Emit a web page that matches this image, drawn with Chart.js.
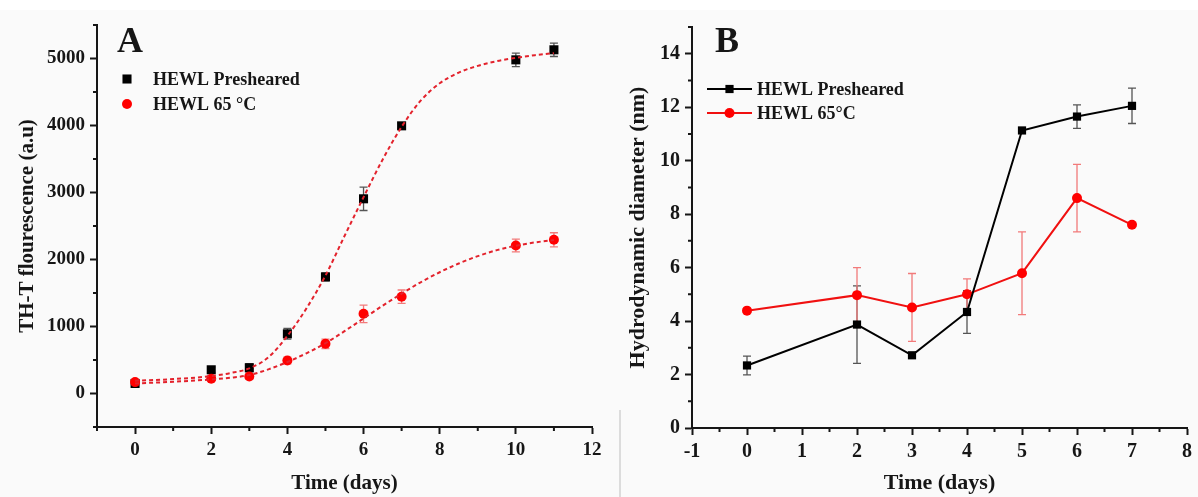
<!DOCTYPE html>
<html>
<head>
<meta charset="utf-8">
<script src="https://cdn.jsdelivr.net/npm/chart.js@4.4.1/dist/chart.umd.min.js"></script>
<style>
  html, body { margin: 0; padding: 0; background: #fff; }
  .panel { position: absolute; top: 0; height: 497px; background: linear-gradient(#fff 0 10px, #fafafa 10px); }
  #panelA { left: 0; width: 610px; }
  #panelB { left: 610px; width: 588px; }
  #gap { position: absolute; left: 619px; top: 410px; width: 2px; height: 87px; background: #dcdcdc; }
  canvas { display: block; }
</style>
</head>
<body>
<div class="panel" id="panelA"><canvas id="chartA" width="610" height="497"></canvas></div>
<div class="panel" id="panelB"><canvas id="chartB" width="588" height="497"></canvas></div>
<div id="gap"></div>
<script>
// ---- A: ThT fluorescence over time ----
const daysA = [0, 2, 3, 4, 5, 6, 7, 10, 11];
const thtPresheared = [150, 354, 384, 891, 1740, 2906, 3995, 4980, 5130];
const thtPreshearedErr = [40, 40, 60, 80, 60, 175, 40, 100, 100];
const tht65 = [170, 219, 254, 493, 742, 1189, 1445, 2209, 2294];
const tht65Err = [30, 30, 40, 50, 70, 130, 100, 95, 105];

// sigmoidal fits, sampled along the dashed curves
const fitDays = [0, 1, 2, 2.5, 3, 3.5, 4, 4.5, 5, 5.5, 6, 6.5, 7, 7.5, 8, 8.5, 9, 9.5, 10, 10.5, 11];
const fitPresheared = [190, 215, 260, 305, 375, 540, 860, 1270, 1760, 2350, 2930, 3490, 3980, 4370, 4630, 4790, 4890, 4960, 5010, 5050, 5080];
const fit65 = [150, 175, 210, 235, 275, 360, 470, 600, 750, 930, 1120, 1310, 1490, 1660, 1810, 1940, 2050, 2140, 2205, 2255, 2290];

const xTicksA = [0, 2, 4, 6, 8, 10, 12];
const xMinorA = [-1, 1, 3, 5, 7, 9, 11];
const yTicksA = [0, 1000, 2000, 3000, 4000, 5000];
const yMinorA = [-500, 500, 1500, 2500, 3500, 4500, 5500];

// ---- B: hydrodynamic diameter over time ----
const daysB = [0, 2, 3, 4, 5, 6, 7];
const dlsPresheared = [2.34, 3.87, 2.72, 4.34, 11.13, 11.65, 12.05];
const dlsPreshearedErr = [0.35, 1.45, 0.05, 0.8, 0, 0.44, 0.66];
const dls65 = [4.39, 4.97, 4.51, 5.0, 5.79, 8.6, 7.6];
const dls65Err = [0, 1.03, 1.27, 0.58, 1.55, 1.26, 0];

const xTicksB = [-1, 0, 1, 2, 3, 4, 5, 6, 7, 8];
const xMinorB = [-0.5, 0.5, 1.5, 2.5, 3.5, 4.5, 5.5, 6.5, 7.5];
const yTicksB = [0, 2, 4, 6, 8, 10, 12, 14];
const yMinorB = [1, 3, 5, 7, 9, 11, 13, 15];

const INK = '#161616';
const RED = '#ff0000';

const pts = (xs, ys) => xs.map((x, i) => ({x, y: ys[i]}));

Chart.defaults.font.family = '"Liberation Serif", "Times New Roman", serif';
Chart.defaults.font.weight = 'bold';
Chart.defaults.color = INK;

// vertical error bars with caps, drawn under the markers
const errorBars = {
  id: 'errorBars',
  beforeDatasetsDraw(chart) {
    const {ctx, scales: {x, y}} = chart;
    chart.data.datasets.forEach(ds => {
      if (!ds.errors) return;
      ctx.save();
      ctx.strokeStyle = ds.errorColor;
      ctx.lineWidth = 1.3;
      ctx.beginPath();
      ds.data.forEach((p, j) => {
        const e = ds.errors[j];
        if (!e) return;
        const px = x.getPixelForValue(p.x);
        const top = y.getPixelForValue(p.y + e);
        const bot = y.getPixelForValue(p.y - e);
        ctx.moveTo(px, top); ctx.lineTo(px, bot);
        ctx.moveTo(px - 4, top); ctx.lineTo(px + 4, top);
        ctx.moveTo(px - 4, bot); ctx.lineTo(px + 4, bot);
      });
      ctx.stroke();
      ctx.restore();
    });
  }
};

// short unlabelled ticks between the major ones
const minorTicks = {
  id: 'minorTicks',
  afterDraw(chart, args, opts) {
    const {ctx, scales: {x, y}} = chart;
    ctx.save();
    ctx.strokeStyle = INK;
    ctx.lineWidth = 2;
    ctx.beginPath();
    opts.x.forEach(v => {
      const px = x.getPixelForValue(v);
      ctx.moveTo(px, x.top); ctx.lineTo(px, x.top + opts.length);
    });
    opts.y.forEach(v => {
      const py = y.getPixelForValue(v);
      ctx.moveTo(y.right, py); ctx.lineTo(y.right - opts.length, py);
    });
    ctx.stroke();
    ctx.restore();
  }
};

// panel letter and in-plot key
const panelKey = {
  id: 'panelKey',
  afterDraw(chart, args, opts) {
    const ctx = chart.ctx;
    ctx.save();
    ctx.fillStyle = INK;
    ctx.font = 'bold 36px "Liberation Serif"';
    ctx.textBaseline = 'alphabetic';
    ctx.fillText(opts.letter, opts.letterX, opts.letterY);
    ctx.font = 'bold 18px "Liberation Serif"';
    ctx.textBaseline = 'middle';
    opts.entries.forEach((idx, row) => {
      const ds = chart.data.datasets[idx];
      const cy = opts.top + row * opts.rowGap;
      const cx = opts.markerX;
      if (opts.lineLength) {
        ctx.strokeStyle = ds.borderColor;
        ctx.lineWidth = 2;
        ctx.beginPath();
        ctx.moveTo(cx - opts.lineLength / 2, cy);
        ctx.lineTo(cx + opts.lineLength / 2, cy);
        ctx.stroke();
      }
      ctx.fillStyle = ds.pointBackgroundColor;
      if (ds.pointStyle === 'rect') {
        const s = ds.pointRadius * Math.SQRT2;
        ctx.fillRect(cx - s / 2, cy - s / 2, s, s);
      } else {
        ctx.beginPath();
        ctx.arc(cx, cy, ds.pointRadius, 0, Math.PI * 2);
        ctx.fill();
      }
      ctx.fillStyle = INK;
      ctx.fillText(ds.label, opts.textX, cy + 1);
    });
    ctx.restore();
  }
};

function axis({min, max, ticks, title, tickSize, titleSize, size, horizontal, titlePad}) {
  return {
    type: 'linear',
    min, max,
    afterBuildTicks: s => { s.ticks = ticks.map(v => ({value: v})); },
    afterFit: s => {
      if (horizontal) { s.height = size; s.paddingLeft = 0; s.paddingRight = 0; }
      else { s.width = size; s.paddingTop = 0; s.paddingBottom = 0; }
    },
    border: {color: INK, width: 2},
    grid: {drawOnChartArea: false, tickLength: 7, tickColor: INK, tickWidth: 2},
    ticks: {
      font: {size: tickSize, weight: 'bold'}, color: INK, padding: 5,
      autoSkip: false, maxRotation: 0, callback: v => String(v)
    },
    title: {display: true, text: title, font: {size: titleSize, weight: 'bold'}, color: INK, padding: titlePad}
  };
}

new Chart(document.getElementById('chartA'), {
  type: 'line',
  data: {
    datasets: [
      {
        label: 'fit presheared', data: pts(fitDays, fitPresheared),
        borderColor: '#e3222c', borderWidth: 2, borderDash: [4, 3],
        pointRadius: 0, cubicInterpolationMode: 'monotone'
      },
      {
        label: 'fit 65', data: pts(fitDays, fit65),
        borderColor: '#e3222c', borderWidth: 2, borderDash: [4, 3],
        pointRadius: 0, cubicInterpolationMode: 'monotone'
      },
      {
        label: 'HEWL 65 °C', data: pts(daysA, tht65), showLine: false,
        pointStyle: 'circle', pointRadius: 5, pointBackgroundColor: RED, pointBorderWidth: 0,
        borderColor: RED, errors: tht65Err, errorColor: '#f27a7a'
      },
      {
        label: 'HEWL Presheared', data: pts(daysA, thtPresheared), showLine: false,
        pointStyle: 'rect', pointRadius: 6.4, pointBackgroundColor: '#000', pointBorderWidth: 0,
        borderColor: '#000', errors: thtPreshearedErr, errorColor: '#555'
      }
    ]
  },
  options: {
    responsive: false,
    animation: false,
    devicePixelRatio: 1,
    layout: {padding: {top: 25, right: 18, bottom: 0, left: 0}},
    scales: {
      x: axis({min: -1, max: 12, ticks: xTicksA, title: 'Time (days)', tickSize: 19, titleSize: 21,
        size: 70, horizontal: true, titlePad: {top: 0, bottom: 1}}),
      y: axis({min: -500, max: 5500, ticks: yTicksA, title: 'TH-T flourescence (a.u)', tickSize: 19, titleSize: 21,
        size: 97, horizontal: false, titlePad: {top: 15, bottom: 0}})
    },
    plugins: {
      legend: {display: false},
      tooltip: {enabled: false},
      minorTicks: {x: xMinorA, y: yMinorA, length: 4},
      panelKey: {letter: 'A', letterX: 117, letterY: 52, entries: [3, 2],
        markerX: 127, textX: 153, top: 79, rowGap: 25, lineLength: 0}
    }
  },
  plugins: [errorBars, minorTicks, panelKey]
});

new Chart(document.getElementById('chartB'), {
  type: 'line',
  data: {
    datasets: [
      {
        label: 'HEWL Presheared', data: pts(daysB, dlsPresheared),
        borderColor: '#000', borderWidth: 2,
        pointStyle: 'rect', pointRadius: 5.8, pointBackgroundColor: '#000', pointBorderWidth: 0,
        errors: dlsPreshearedErr, errorColor: '#555'
      },
      {
        label: 'HEWL 65°C', data: pts(daysB, dls65),
        borderColor: '#f01010', borderWidth: 2,
        pointStyle: 'circle', pointRadius: 5, pointBackgroundColor: RED, pointBorderWidth: 0,
        errors: dls65Err, errorColor: '#f27a7a'
      }
    ]
  },
  options: {
    responsive: false,
    animation: false,
    devicePixelRatio: 1,
    layout: {padding: {top: 27, right: 11, bottom: 0, left: 0}},
    scales: {
      x: axis({min: -1, max: 8, ticks: xTicksB, title: 'Time (days)', tickSize: 20, titleSize: 22,
        size: 69, horizontal: true, titlePad: {top: 0, bottom: 0}}),
      y: axis({min: 0, max: 15, ticks: yTicksB, title: 'Hydrodynamic diameter (nm)', tickSize: 20, titleSize: 22,
        size: 82, horizontal: false, titlePad: {top: 15, bottom: 0}})
    },
    plugins: {
      legend: {display: false},
      tooltip: {enabled: false},
      minorTicks: {x: xMinorB, y: yMinorB, length: 4},
      panelKey: {letter: 'B', letterX: 105, letterY: 52, entries: [0, 1],
        markerX: 119.5, textX: 147, top: 89, rowGap: 24, lineLength: 45}
    }
  },
  plugins: [errorBars, minorTicks, panelKey]
});
</script>
</body>
</html>
